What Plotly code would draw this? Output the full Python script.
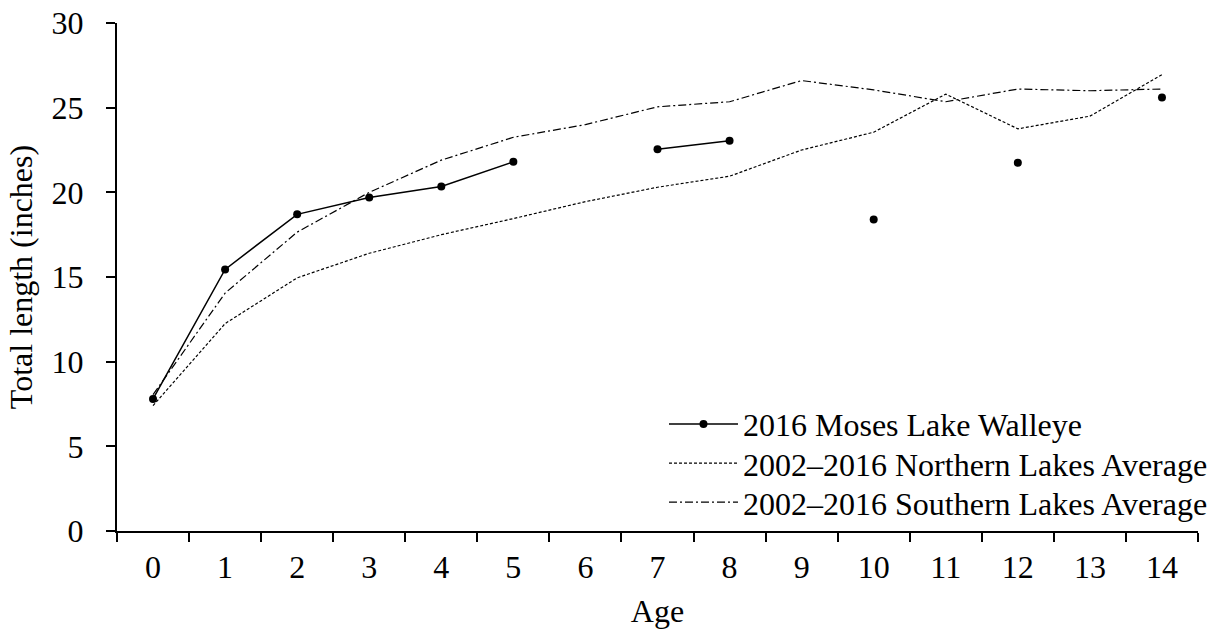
import plotly.graph_objects as go

ages = [str(a) for a in range(15)]
moses = [7.8, 15.45, 18.7, 19.7, 20.35, 21.8, None, 22.55, 23.05, None, 18.4, None, 21.75, None, 25.6]
northern = [7.4, 12.25, 14.95, 16.4, 17.5, 18.45, 19.45, 20.3, 20.95, 22.5, 23.55, 25.8, 23.75, 24.5, 26.95]
southern = [8.05, 14.05, 17.65, 20.0, 21.9, 23.25, 24.0, 25.05, 25.35, 26.6, 26.05, 25.35, 26.1, 26.0, 26.1]

names = ["2016 Moses Lake Walleye",
         "2002\u20132016 Northern Lakes Average",
         "2002\u20132016 Southern Lakes Average"]

FONT = "Liberation Serif, Times New Roman, serif"
FS = 32

fig = go.Figure()
fig.add_trace(go.Scatter(x=ages, y=moses, name=names[0], mode="lines+markers",
                         line=dict(color="black", width=1.5),
                         marker=dict(color="black", size=8, symbol="circle"),
                         connectgaps=False, legend="legend"))
fig.add_trace(go.Scatter(x=ages, y=northern, name=names[1], mode="lines",
                         line=dict(color="black", width=1.2, dash="3px,2px"),
                         legend="legend2"))
fig.add_trace(go.Scatter(x=ages, y=southern, name=names[2], mode="lines",
                         line=dict(color="black", width=1.2, dash="8px,3px,2px,3px"),
                         legend="legend3"))

def leg(yc):
    return dict(x=0.506, y=yc, xanchor="left", yanchor="middle",
                bgcolor="rgba(0,0,0,0)", font=dict(family=FONT, size=FS, color="black"),
                itemwidth=69, tracegroupgap=0)

fig.update_layout(
    width=1219, height=629,
    margin=dict(l=117, r=21, t=23, b=98, autoexpand=False),
    paper_bgcolor="white", plot_bgcolor="white",
    font=dict(family=FONT, size=FS, color="black"),
    showlegend=True,
    legend=leg(0.2103),
    legend2=leg(0.1334),
    legend3=leg(0.0566),
)
fig.update_xaxes(
    type="category", categoryorder="array", categoryarray=ages,
    range=[-0.5, 14.5], automargin=False,
    showline=True, linecolor="black", linewidth=2,
    ticks="outside", ticklen=9, tickwidth=2, tickcolor="black",
    tickson="boundaries", showgrid=False, zeroline=False,
    ticklabelstandoff=7,
    title=dict(text="Age", standoff=16, font=dict(family=FONT, size=FS)),
    tickfont=dict(family=FONT, size=FS),
)
fig.update_yaxes(
    range=[0, 30], dtick=5, tick0=0, automargin=False,
    showline=True, linecolor="black", linewidth=2,
    ticks="outside", ticklen=9, tickwidth=2, tickcolor="black",
    showgrid=False, zeroline=False,
    ticklabelstandoff=16,
    title=dict(text="Total length (inches)", standoff=9, font=dict(family=FONT, size=FS)),
    tickfont=dict(family=FONT, size=FS),
)

fig.write_html("out.html")
